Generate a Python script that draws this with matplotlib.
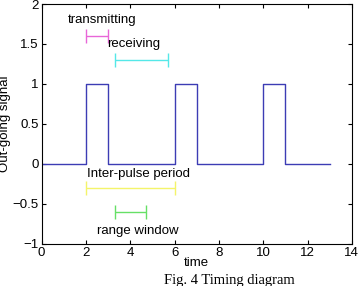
import matplotlib
matplotlib.use("Agg")
import matplotlib.pyplot as plt

# pulse train (step signal)
t = [0, 2, 2, 3, 3, 6, 6, 7, 7, 10, 10, 11, 11, 13]
sig = [0, 0, 1, 1, 0, 0, 1, 1, 0, 0, 1, 1, 0, 0]

# interval markers: (start, end, y)
intervals = {
    "transmitting": (2.0, 3.0, 1.6),
    "receiving": (3.3, 5.7, 1.3),
    "Inter-pulse period": (2.0, 6.0, -0.3),
    "range window": (3.3, 4.7, -0.6),
}
colors = {
    "transmitting": "#e866d8",
    "receiving": "#55e8e8",
    "Inter-pulse period": "#f4f46a",
    "range window": "#66e066",
}
labels = {
    "transmitting": (2.75, 1.8, "center"),
    "receiving": (4.15, 1.5, "center"),
    "Inter-pulse period": (2.05, -0.12, "left"),
    "range window": (4.35, -0.84, "center"),
}

plt.rcParams['font.family'] = ['Liberation Sans', 'DejaVu Sans']
fig = plt.figure(figsize=(3.62, 2.86), dpi=100)
ax = fig.add_axes([0.115, 0.147, 0.857, 0.839])

ax.plot(t, sig, color="#3c3cb4", lw=1.0)

for name, (x0, x1, y) in intervals.items():
    xc = (x0 + x1) / 2
    ax.errorbar([xc], [y], xerr=[[xc - x0], [x1 - xc]], color=colors[name],
                capsize=5, elinewidth=1.0, capthick=1.0, fmt="none")
    lx, ly, ha = labels[name]
    ax.text(lx, ly, name, ha=ha, va="center", fontsize=9.5)

ax.set_xlim(0, 14)
ax.set_ylim(-1, 2)
ax.set_xticks(range(0, 15, 2))
ax.set_yticks([-1, -0.5, 0, 0.5, 1, 1.5, 2])
ax.set_yticklabels(["\u22121", "\u22120.5", "0", "0.5", "1", "1.5", "2"])
ax.tick_params(direction="in", top=True, right=True, labelsize=9.5, length=3, pad=2)
for s in ax.spines.values():
    s.set_linewidth(0.8)
ax.set_xlabel("time", fontsize=9.5, labelpad=-1)
ax.set_ylabel("Out-going signal", fontsize=9.5, labelpad=0)
ax.yaxis.set_label_coords(-0.1, 0.5)

fig.text(0.635, 1 - 274 / 286, "Fig. 4 Timing diagram", ha="center", va="top",
         fontsize=10.5, family="Liberation Serif")

fig.savefig("out.png", dpi=100)
